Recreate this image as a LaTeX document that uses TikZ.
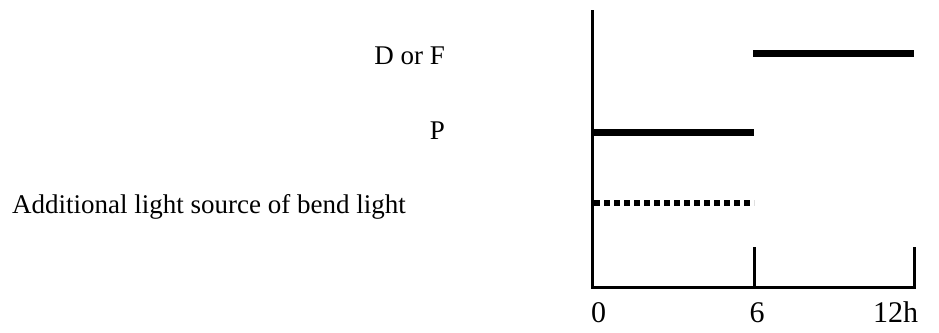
\documentclass[tikz,border=0pt]{standalone}
\usepackage{fontspec}
\setmainfont{Liberation Serif}
\usepackage{tikz}

\begin{document}
\begin{tikzpicture}[x=1pt,y=-1pt,
    axis/.style={line width=3pt,line join=miter},
    bar/.style={line width=7pt},
    dotbar/.style={line width=6pt,dash pattern=on 6pt off 4pt},
    lbl/.style={inner sep=0pt,font=\fontsize{27}{32}\selectfont},
    tick lbl/.style={inner sep=0pt,anchor=base,font=\fontsize{30}{36}\selectfont}]
    \useasboundingbox (0,0) rectangle (939,332);
    % time axis
    \coordinate (top) at (592,10);
    \coordinate (orig) at (592,287);
    \coordinate (xend) at (915.5,287);
    \coordinate (t6) at (754,287);
    \coordinate (t6up) at (754,247);
    \coordinate (t12) at (914,287);
    \coordinate (t12up) at (914,247);
    \draw[axis] (top) -- (orig) -- (xend);
    \draw[axis] (t6) -- (t6up);
    \draw[axis] (t12) -- (t12up);
    \node[tick lbl] (l0) at (598.5,322) {0};
    \node[tick lbl] (l6) at (757,322) {6};
    \node[tick lbl] (l12) at (895.5,322) {12h};
    % lamp states
    \node[lbl,anchor=base east] (df) at (445,64) {D or F};
    \node[lbl,anchor=base east] (p) at (445,139) {P};
    \node[lbl,anchor=base west] (add) at (12,213) {Additional light source of bend light};
    \coordinate (dfa) at (753,53);
    \coordinate (dfb) at (914,53);
    \coordinate (pa) at (592,132);
    \coordinate (pb) at (754,132);
    \coordinate (adda) at (594,203);
    \coordinate (addb) at (754,203);
    \draw[bar] (dfa) -- (dfb);
    \draw[bar] (pa) -- (pb);
    \draw[dotbar] (adda) -- (addb);
\end{tikzpicture}
\end{document}
